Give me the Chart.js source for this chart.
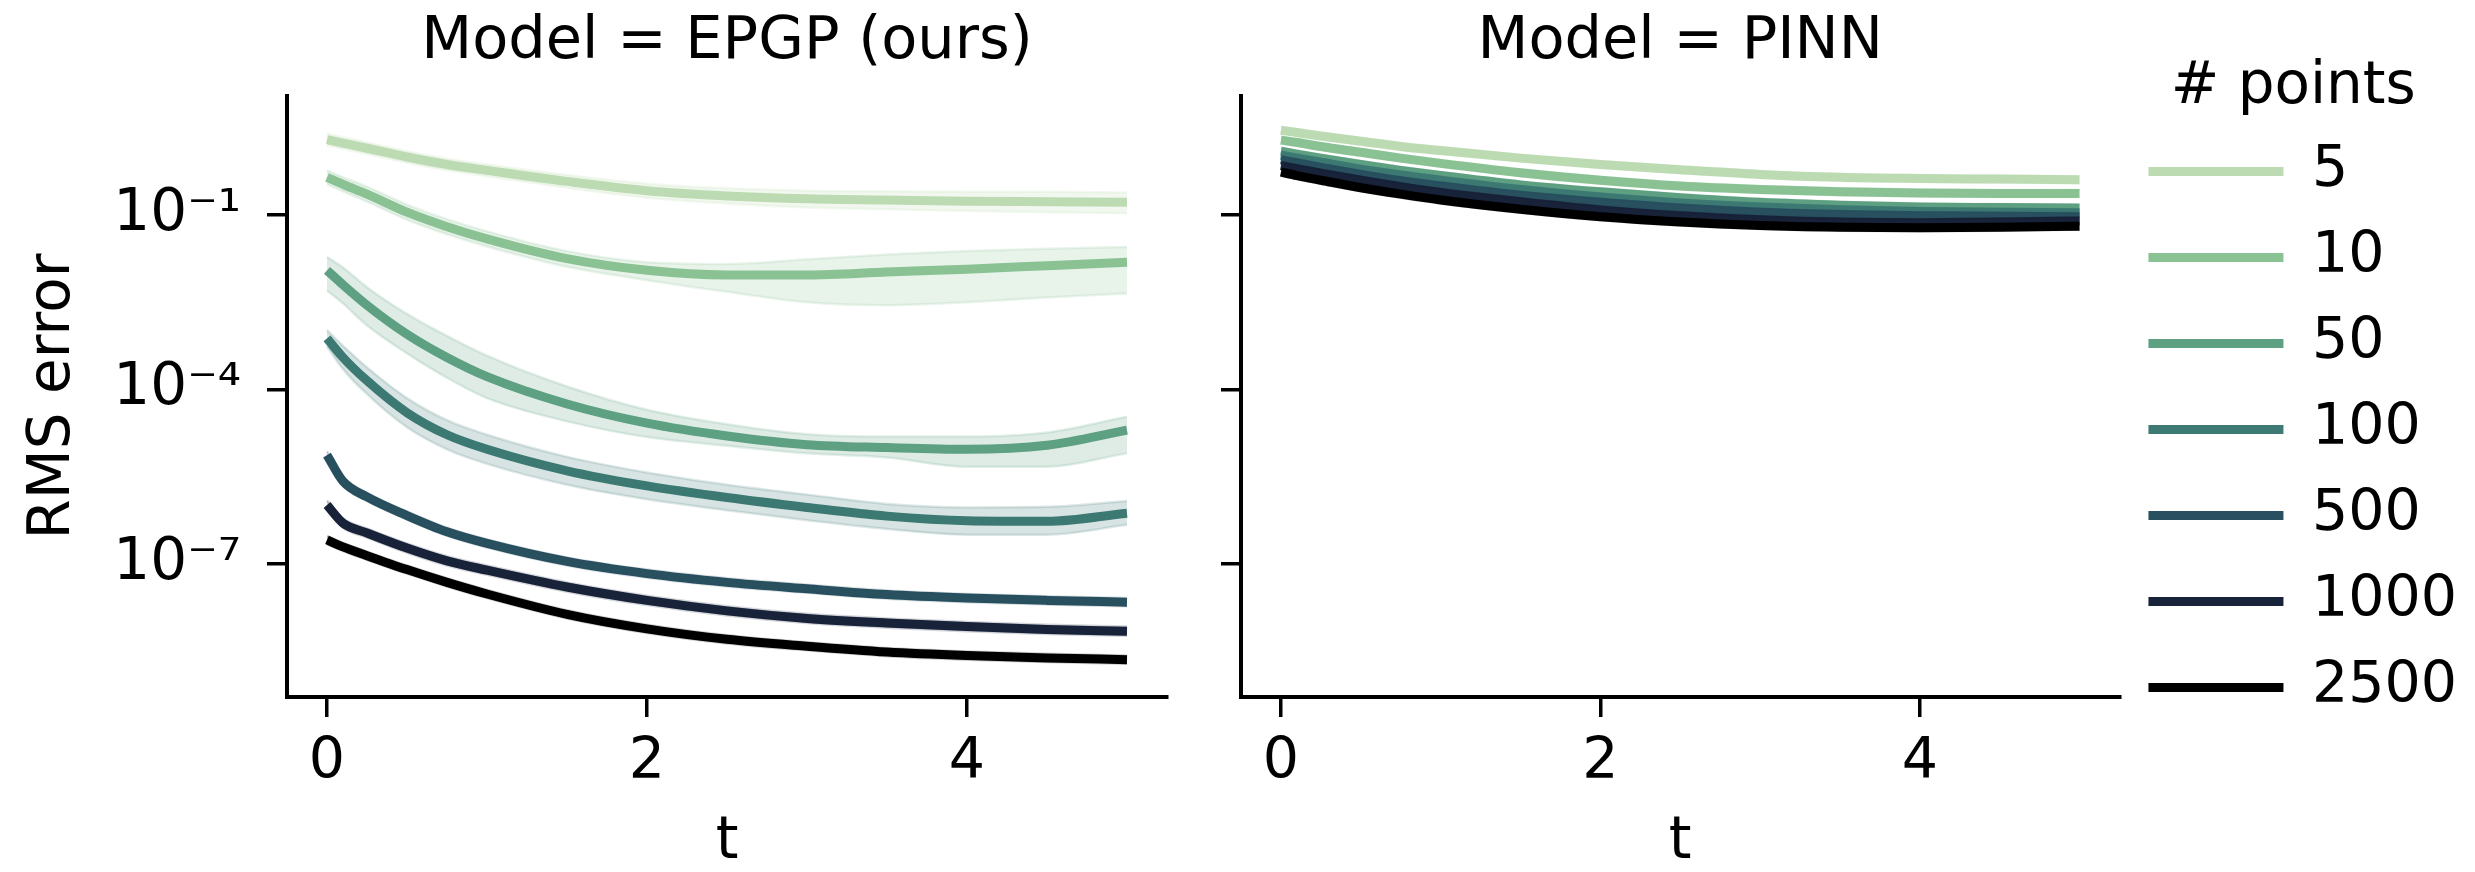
<!DOCTYPE html>
<html>
<head>
<meta charset="utf-8">
<script src="https://cdn.jsdelivr.net/npm/chart.js@4.4.1/dist/chart.umd.min.js"></script>
<style>
  html, body { margin: 0; padding: 0; background: #fff; }
  #wrap { position: relative; width: 2475px; height: 872px; }
  canvas { position: absolute; top: 0; }
  #epgp { left: 0; }
  #pinn { left: 1170px; }
</style>
</head>
<body>
<div id="wrap">
  <canvas id="epgp" width="1200" height="872"></canvas>
  <canvas id="pinn" width="1305" height="872"></canvas>
</div>
<script>
// time grid and series
const t = [0, 0.1, 0.25, 0.5, 0.75, 1, 1.5, 2, 2.5, 3, 3.5, 4, 4.5, 5];
const pointCounts = ['5', '10', '50', '100', '500', '1000', '2500'];
const colors = ['#bddbb3', '#8ac294', '#5ea082', '#3d7a74', '#285060', '#18233a', '#000000'];
const xTicks = [0, 2, 4];
const yTicks = [1e-7, 1e-4, 1e-1];
const yMin = 5.1e-10;
const yMax = 11.2;

// values are log10(RMS error) (one row per # points)
const epgpMean = [
  [0.30, 0.24, 0.15, 0.00, -0.13, -0.23, -0.42, -0.58, -0.67, -0.72, -0.74, -0.76, -0.77, -0.78],
  [-0.35, -0.47, -0.64, -0.95, -1.20, -1.41, -1.75, -1.95, -2.03, -2.03, -1.98, -1.93, -1.87, -1.81],
  [-1.95, -2.20, -2.55, -3.05, -3.45, -3.78, -4.25, -4.58, -4.80, -4.95, -5.00, -5.03, -4.96, -4.70],
  [-3.12, -3.45, -3.85, -4.40, -4.78, -5.03, -5.40, -5.66, -5.86, -6.03, -6.18, -6.26, -6.27, -6.13],
  [-5.13, -5.58, -5.85, -6.17, -6.45, -6.65, -6.96, -7.17, -7.32, -7.43, -7.53, -7.59, -7.63, -7.66],
  [-5.99, -6.30, -6.47, -6.73, -6.95, -7.11, -7.40, -7.63, -7.81, -7.94, -8.02, -8.08, -8.13, -8.16],
  [-6.59, -6.71, -6.86, -7.10, -7.32, -7.52, -7.87, -8.12, -8.30, -8.42, -8.52, -8.58, -8.62, -8.65]
];
const epgpHi = [
  [0.40, 0.34, 0.25, 0.10, -0.03, -0.13, -0.31, -0.46, -0.54, -0.58, -0.59, -0.60, -0.60, -0.61],
  [-0.23, -0.35, -0.51, -0.82, -1.07, -1.28, -1.62, -1.81, -1.84, -1.76, -1.68, -1.62, -1.58, -1.55],
  [-1.72, -1.90, -2.24, -2.70, -3.08, -3.42, -3.95, -4.35, -4.60, -4.77, -4.81, -4.81, -4.74, -4.47],
  [-2.98, -3.25, -3.62, -4.15, -4.53, -4.78, -5.16, -5.43, -5.64, -5.81, -5.97, -6.03, -6.02, -5.92],
  [-5.06, -5.51, -5.78, -6.10, -6.38, -6.58, -6.89, -7.10, -7.25, -7.36, -7.46, -7.52, -7.56, -7.59],
  [-5.91, -6.22, -6.39, -6.65, -6.87, -7.03, -7.32, -7.55, -7.73, -7.86, -7.94, -8.00, -8.05, -8.08],
  [-6.52, -6.64, -6.79, -7.03, -7.25, -7.45, -7.80, -8.05, -8.23, -8.35, -8.45, -8.51, -8.55, -8.58]
];
const epgpLo = [
  [0.20, 0.14, 0.05, -0.10, -0.23, -0.33, -0.53, -0.70, -0.80, -0.87, -0.90, -0.93, -0.95, -0.97],
  [-0.47, -0.59, -0.77, -1.08, -1.33, -1.54, -1.89, -2.12, -2.32, -2.50, -2.55, -2.50, -2.42, -2.35],
  [-2.30, -2.52, -2.90, -3.38, -3.80, -4.15, -4.55, -4.82, -4.97, -5.10, -5.17, -5.33, -5.33, -5.10],
  [-3.26, -3.65, -4.08, -4.65, -5.03, -5.28, -5.64, -5.89, -6.08, -6.25, -6.40, -6.50, -6.50, -6.33],
  [-5.20, -5.65, -5.92, -6.24, -6.52, -6.72, -7.03, -7.24, -7.39, -7.50, -7.60, -7.66, -7.70, -7.73],
  [-6.07, -6.38, -6.55, -6.81, -7.03, -7.19, -7.48, -7.71, -7.89, -8.02, -8.10, -8.16, -8.21, -8.24],
  [-6.66, -6.78, -6.93, -7.17, -7.39, -7.59, -7.94, -8.19, -8.37, -8.49, -8.59, -8.65, -8.69, -8.72]
];

const pinnMean = [
  [0.46, 0.42, 0.36, 0.27, 0.18, 0.11, -0.02, -0.13, -0.22, -0.30, -0.35, -0.37, -0.38, -0.39],
  [0.29, 0.25, 0.18, 0.08, -0.02, -0.11, -0.27, -0.40, -0.50, -0.56, -0.60, -0.62, -0.63, -0.63],
  [0.10, 0.05, -0.02, -0.13, -0.23, -0.32, -0.48, -0.60, -0.70, -0.78, -0.83, -0.86, -0.87, -0.88],
  [0.03, -0.02, -0.09, -0.21, -0.31, -0.40, -0.56, -0.69, -0.79, -0.86, -0.91, -0.94, -0.95, -0.96],
  [-0.05, -0.10, -0.18, -0.30, -0.41, -0.50, -0.66, -0.78, -0.88, -0.95, -0.99, -1.01, -1.02, -1.03],
  [-0.15, -0.20, -0.28, -0.40, -0.51, -0.61, -0.77, -0.91, -1.01, -1.08, -1.12, -1.13, -1.12, -1.10],
  [-0.26, -0.32, -0.40, -0.53, -0.64, -0.74, -0.90, -1.03, -1.12, -1.18, -1.21, -1.22, -1.21, -1.19]
];
const pinnHi = [
  [0.52, 0.48, 0.42, 0.33, 0.24, 0.17, 0.04, -0.07, -0.16, -0.24, -0.29, -0.31, -0.32, -0.33],
  [0.35, 0.31, 0.24, 0.14, 0.04, -0.05, -0.21, -0.34, -0.44, -0.50, -0.54, -0.56, -0.57, -0.57],
  [0.16, 0.11, 0.04, -0.07, -0.17, -0.26, -0.42, -0.54, -0.64, -0.72, -0.77, -0.80, -0.81, -0.82],
  [0.09, 0.04, -0.03, -0.15, -0.25, -0.34, -0.50, -0.63, -0.73, -0.80, -0.85, -0.88, -0.89, -0.90],
  [0.01, -0.04, -0.12, -0.24, -0.35, -0.44, -0.60, -0.72, -0.82, -0.89, -0.93, -0.95, -0.96, -0.97],
  [-0.09, -0.14, -0.22, -0.34, -0.45, -0.55, -0.71, -0.85, -0.95, -1.02, -1.06, -1.07, -1.06, -1.04],
  [-0.20, -0.26, -0.34, -0.47, -0.58, -0.68, -0.84, -0.97, -1.06, -1.12, -1.15, -1.16, -1.15, -1.13]
];
const pinnLo = [
  [0.40, 0.36, 0.30, 0.21, 0.12, 0.05, -0.08, -0.19, -0.28, -0.36, -0.41, -0.43, -0.44, -0.45],
  [0.23, 0.19, 0.12, 0.02, -0.08, -0.17, -0.33, -0.46, -0.56, -0.62, -0.66, -0.68, -0.69, -0.69],
  [0.04, -0.01, -0.08, -0.19, -0.29, -0.38, -0.54, -0.66, -0.76, -0.84, -0.89, -0.92, -0.93, -0.94],
  [-0.03, -0.08, -0.15, -0.27, -0.37, -0.46, -0.62, -0.75, -0.85, -0.92, -0.97, -1.00, -1.01, -1.02],
  [-0.11, -0.16, -0.24, -0.36, -0.47, -0.56, -0.72, -0.84, -0.94, -1.01, -1.05, -1.07, -1.08, -1.09],
  [-0.21, -0.26, -0.34, -0.46, -0.57, -0.67, -0.83, -0.97, -1.07, -1.14, -1.18, -1.19, -1.18, -1.16],
  [-0.32, -0.38, -0.46, -0.59, -0.70, -0.80, -0.96, -1.09, -1.18, -1.24, -1.27, -1.28, -1.27, -1.25]
];

Chart.defaults.font.family = 'DejaVu Sans';
Chart.defaults.color = '#000';

const SUP = { '-': '\u207B', '0': '\u2070', '1': '\u00B9', '2': '\u00B2', '3': '\u00B3', '4': '\u2074',
  '5': '\u2075', '6': '\u2076', '7': '\u2077', '8': '\u2078', '9': '\u2079' };
const sup = n => String(n).split('').map(c => SUP[c]).join('');

function rgba(hex, a) {
  const n = parseInt(hex.slice(1), 16);
  return `rgba(${(n >> 16) & 255}, ${(n >> 8) & 255}, ${n & 255}, ${a})`;
}

// log10 -> value, paired with t
const pts = logs => logs.map((v, i) => ({ x: t[i], y: Math.pow(10, v) }));

function buildDatasets(mean, lo, hi) {
  const ds = [];
  mean.forEach((m, i) => {
    const c = colors[i];
    // line first, then its band on top (like seaborn)
    ds.push({
      label: pointCounts[i], data: pts(m), isLine: true,
      borderColor: c, backgroundColor: c, borderWidth: 9,
      pointRadius: 0, fill: false, cubicInterpolationMode: 'monotone',
      order: 100 - 3 * i
    });
    ds.push({
      label: '', data: pts(hi[i]),
      borderColor: rgba(c, 0.18), backgroundColor: rgba(c, 0.2), borderWidth: 2.5,
      pointRadius: 0, fill: '+1', cubicInterpolationMode: 'monotone',
      order: 99 - 3 * i
    });
    ds.push({
      label: '', data: pts(lo[i]),
      borderColor: rgba(c, 0.18), borderWidth: 2.5,
      pointRadius: 0, fill: false, cubicInterpolationMode: 'monotone',
      order: 98 - 3 * i
    });
  });
  return ds;
}

const tickGrid = {
  display: true, drawOnChartArea: false, drawTicks: true,
  tickLength: 20, tickWidth: 3.5, lineWidth: 3.5, color: '#000', tickColor: '#000'
};

function makeScales(yAxisWidth, showY) {
  return {
    x: {
      type: 'linear', min: -0.25, max: 5.25,
      afterBuildTicks: s => { s.ticks = xTicks.map(v => ({ value: v })); },
      afterFit: s => { s.height = 175; },
      ticks: { font: { size: 57 }, padding: 12, maxRotation: 0, callback: v => String(v) },
      grid: tickGrid,
      border: { display: true, width: 4, color: '#000' },
      title: { display: true, text: 't', font: { size: 58, lineHeight: 1 }, padding: { top: 0, bottom: 0 } }
    },
    y: {
      type: 'logarithmic', min: yMin, max: yMax,
      afterBuildTicks: s => { s.ticks = yTicks.map(v => ({ value: v })); },
      afterFit: s => { s.width = yAxisWidth; },
      ticks: {
        display: showY, font: { size: 58 }, padding: 26,
        callback: v => '10' + sup(Math.round(Math.log10(v)))
      },
      grid: tickGrid,
      border: { display: true, width: 4, color: '#000' },
      title: {
        display: showY, text: 'RMS error', font: { size: 58, lineHeight: 1 },
        padding: { top: 25, bottom: 0 }
      }
    }
  };
}

function panelTitle(text) {
  return {
    display: true, text: text, fullSize: false, color: '#000',
    font: { size: 59, weight: 'normal', lineHeight: 1.2 },
    padding: { top: 7, bottom: 18.2 }
  };
}

// Model = EPGP (ours)
new Chart(document.getElementById('epgp'), {
  type: 'line',
  data: { datasets: buildDatasets(epgpMean, epgpLo, epgpHi) },
  options: {
    responsive: false, animation: false, devicePixelRatio: 1, events: [],
    layout: { padding: { left: 0, right: 33, top: 0, bottom: 0 } },
    plugins: {
      legend: { display: false },
      tooltip: { enabled: false },
      title: panelTitle('Model = EPGP (ours)')
    },
    scales: makeScales(287, true)
  }
});

// Model = PINN
new Chart(document.getElementById('pinn'), {
  type: 'line',
  data: { datasets: buildDatasets(pinnMean, pinnLo, pinnHi) },
  options: {
    responsive: false, animation: false, devicePixelRatio: 1, events: [],
    layout: { padding: { left: 0, right: 8, top: 0, bottom: 0 } },
    plugins: {
      tooltip: { enabled: false },
      title: panelTitle('Model = PINN'),
      legend: {
        display: true, position: 'right', align: 'start', maxWidth: 500,
        title: {
          display: true, text: '# points', color: '#000',
          font: { size: 58, lineHeight: 0.95 }, padding: { top: 59, bottom: 0 }
        },
        labels: {
          boxWidth: 135, boxHeight: 9, padding: 29, color: '#000', font: { size: 57 },
          generateLabels: chart => chart.data.datasets
            .map((d, i) => ({ text: d.label, fillStyle: d.borderColor, strokeStyle: d.borderColor,
              lineWidth: 0, hidden: false, datasetIndex: i, isLine: d.isLine }))
            .filter(item => item.isLine)
        }
      }
    },
    scales: makeScales(71, false)
  }
});
</script>
</body>
</html>
